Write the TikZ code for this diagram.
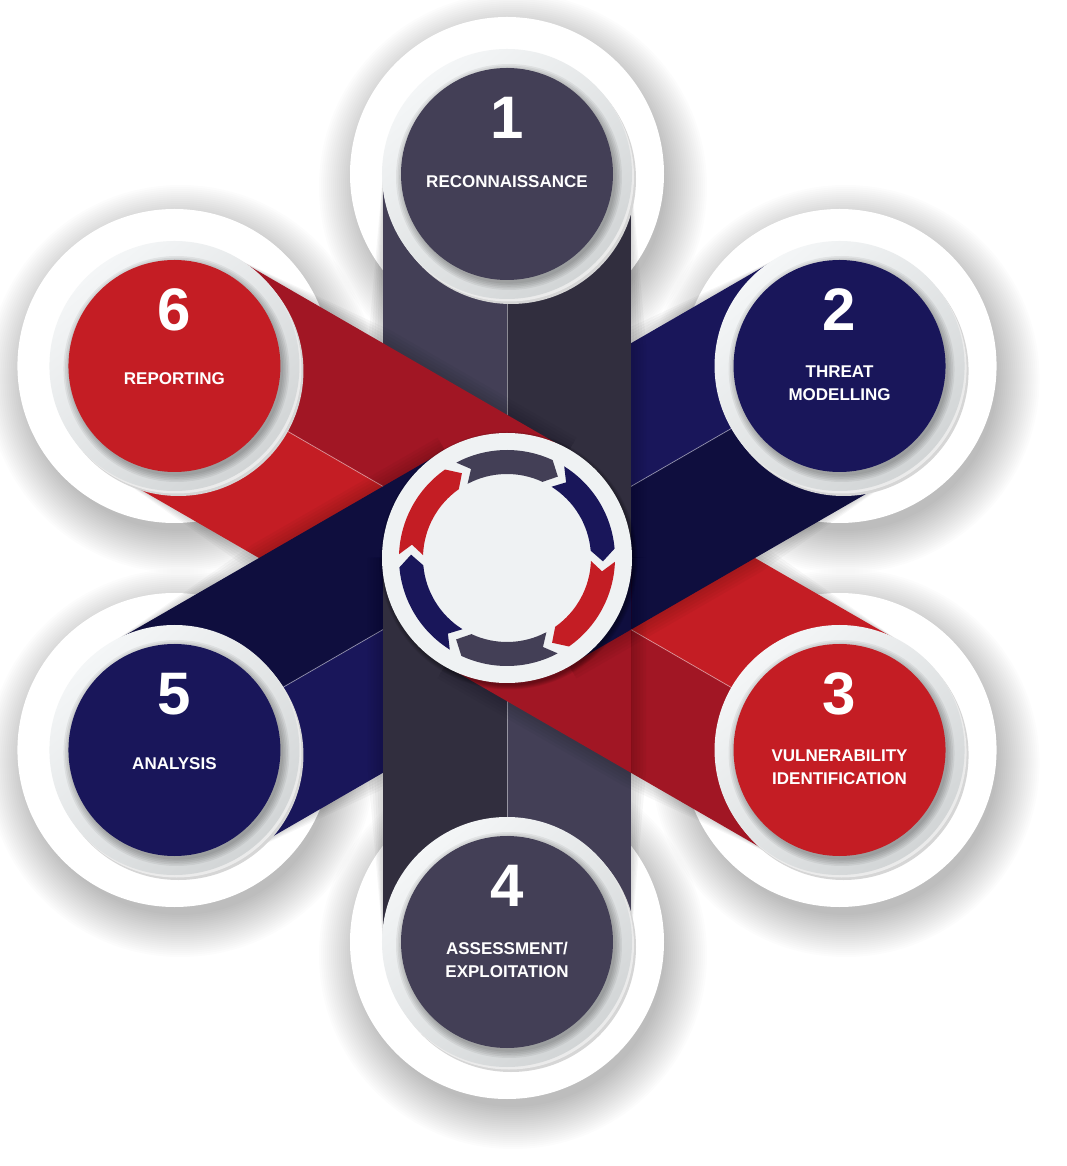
\documentclass[tikz,border=0pt]{standalone}
\usepackage{fontspec}
\setmainfont{Liberation Sans}
\usetikzlibrary{calc}

\definecolor{grayL}{HTML}{433F56}
\definecolor{grayD}{HTML}{312E3E}
\definecolor{navyL}{HTML}{19165A}
\definecolor{navyD}{HTML}{0F0E3E}
\definecolor{redL}{HTML}{C41D24}
\definecolor{redD}{HTML}{A11624}
\definecolor{ringA}{HTML}{F4F6F7}
\definecolor{ringB}{HTML}{D2D5D6}
\definecolor{hubcol}{HTML}{EFF2F3}

\begin{document}
\begin{tikzpicture}[x=1pt, y=1pt,
    disc/.style={circle, minimum size=212pt, inner sep=0pt},
    hubdisc/.style={circle, minimum size=250pt, inner sep=0pt, fill=hubcol},
    num/.style={text=white, inner sep=0pt, font=\bfseries\fontsize{60}{60}\selectfont},
    lbl/.style={text=white, inner sep=0pt, align=center, font=\bfseries\fontsize{17}{23}\selectfont},
    midline/.style={draw=white, draw opacity=.45, line width=.8pt}]

  \newcommand\Rad{384};
  \newcommand\Half{124};

  \fill[white] (-507,-608) rectangle (560,558);
  \useasboundingbox (-507,-608) rectangle (560,558);

  %% centres of the six stages
  \coordinate (c) at (0,0);
  \foreach \a/\k in {90/1, 30/2, -30/3, -90/4, -150/5, 150/6}
    \coordinate (p\k) at (\a:\Rad);

  %% white halos with soft shadow
  \foreach \k in {1,...,6}{
    \foreach \s in {1,...,22}
      \fill[black, opacity=.011] ($(p\k)+(6,-13)$) circle ({150+2*\s});
    \fill[white] (p\k) circle (157);
  }

  %% one tail: angle, light half, dark half
  \newcommand\tail[3]{%
    \begin{scope}[rotate=#1]
      \foreach \s in {3,6,...,15}
        \fill[black, opacity=.03] (0,-\Half-\s) -- (\Rad-170,-\Half-\s) -- (\Rad,-\Half)
          -- (\Rad,\Half) -- (\Rad-170,\Half+\s) -- (0,\Half+\s) -- cycle;
      \fill[#3] (0,-\Half) rectangle (\Rad,0);
      \fill[#2] (0,0) rectangle (\Rad,\Half);
      \draw[midline] (0,0) -- (\Rad,0);
    \end{scope}}

  \tail{-30}{redL}{redD}   % 3
  \tail{30}{navyL}{navyD}  % 2
  \tail{90}{grayL}{grayD}  % 1
  \tail{150}{redL}{redD}   % 6
  \tail{-150}{navyL}{navyD}% 5
  \tail{-90}{grayL}{grayD} % 4

  %% weave: 3 and 2 go back over 4
  \begin{scope}
    \clip[rotate=-90] (0,-\Half) rectangle (\Rad,\Half);
    \tail{-30}{redL}{redD}
    \tail{30}{navyL}{navyD}
  \end{scope}

  %% rings round the stages
  \foreach \k in {1,...,6}{
    \fill[black!16] ($(p\k)+(4,-5)$) circle (125);
    \fill[black!8] ($(p\k)+(2,-2.5)$) circle (125);
    \shade[top color=ringA, bottom color=ringB, shading angle=40] (p\k) circle (125);
    \foreach \s in {1,...,5}
      \fill[black, opacity=.06] ($(p\k)+(2,-3)$) circle ({105+1.6*\s});
  }

  \node[disc, fill=grayL] (d1) at (p1) {};
  \node[disc, fill=navyL] (d2) at (p2) {};
  \node[disc, fill=redL]  (d3) at (p3) {};
  \node[disc, fill=grayL] (d4) at (p4) {};
  \node[disc, fill=navyL] (d5) at (p5) {};
  \node[disc, fill=redL]  (d6) at (p6) {};

  \node[num] (num1) at ($(d1)+(0,56)$) {1};
  \node[lbl] (lbl1) at ($(d1)+(0,-8)$) {RECONNAISSANCE};
  \node[num] (num2) at ($(d2)+(0,56)$) {2};
  \node[lbl] (lbl2) at ($(d2)+(0,-17.5)$) {THREAT\\MODELLING};
  \node[num] (num3) at ($(d3)+(0,56)$) {3};
  \node[lbl] (lbl3) at ($(d3)+(0,-17.5)$) {VULNERABILITY\\IDENTIFICATION};
  \node[num] (num4) at ($(d4)+(0,56)$) {4};
  \node[lbl] (lbl4) at ($(d4)+(0,-17.5)$) {ASSESSMENT/\\EXPLOITATION};
  \node[num] (num5) at ($(d5)+(0,56)$) {5};
  \node[lbl] (lbl5) at ($(d5)+(0,-14)$) {ANALYSIS};
  \node[num] (num6) at ($(d6)+(0,56)$) {6};
  \node[lbl] (lbl6) at ($(d6)+(0,-13)$) {REPORTING};

  %% hub with the ring of arrows
  \foreach \s in {1,...,5}
    \fill[black, opacity=.08] (1.5,-2.5) circle ({124+\s});
  \node[hubdisc] (hub) at (c) {};

  \foreach \a/\col in {90/grayL, 30/navyL, -30/redL, -90/grayL, -150/navyL, 150/redL}
    \fill[\col] ($(hub)+({\a+28}:108)$) arc[start angle=\a+28, end angle=\a-25, radius=108]
      -- ($(hub)+({\a-32}:96)$) -- ($(hub)+({\a-25}:84)$)
      arc[start angle=\a-25, end angle=\a+28, radius=84]
      -- ($(hub)+({\a+22}:96)$) -- cycle;
\end{tikzpicture}
\end{document}
